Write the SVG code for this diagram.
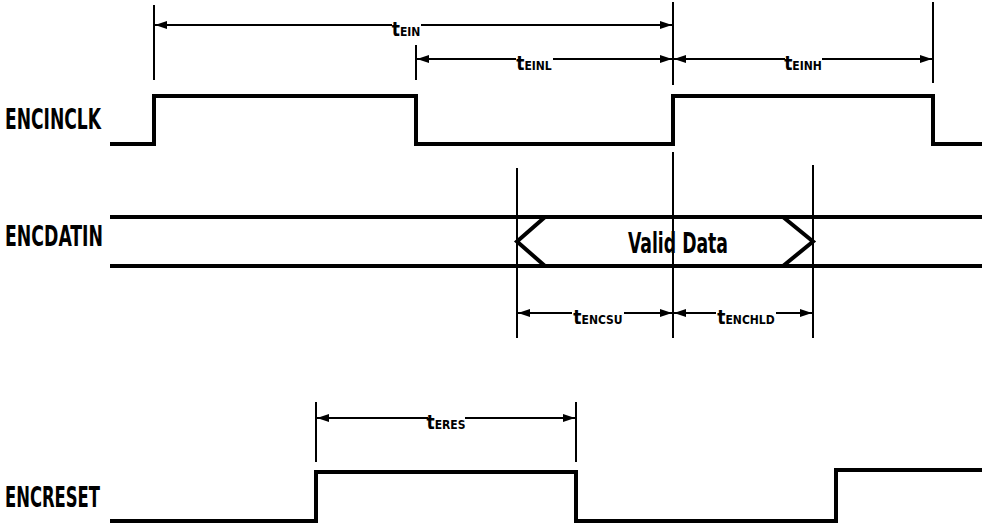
<svg xmlns="http://www.w3.org/2000/svg" width="982" height="527" viewBox="0 0 982 527">
<defs>
<marker id="ah" viewBox="0 0 12 8" refX="12" refY="4" markerWidth="12" markerHeight="8" markerUnits="userSpaceOnUse" orient="auto-start-reverse">
<path d="M0,0 L12,4 L0,8 Z" fill="#000"/>
</marker>
<style>
.wave{fill:none;stroke:#000;stroke-width:4;stroke-linejoin:miter}
.ext{stroke:#000;stroke-width:2}
.dim{stroke:#000;stroke-width:2}
.sig{font-family:"DejaVu Sans","Liberation Sans",sans-serif;font-weight:bold;font-stretch:condensed;font-size:28px;fill:#000}
.lbl{font-family:"DejaVu Sans","Liberation Sans",sans-serif;font-weight:bold;font-stretch:condensed;fill:#000}
.t{font-size:19px}
.s{font-size:12px}
</style>
</defs>
<rect width="982" height="527" fill="#fff"/>

<g id="encinclk">
<text class="sig" x="5" y="129" textLength="96" lengthAdjust="spacingAndGlyphs">ENCINCLK</text>
<path class="wave" d="M110,144 H154 V96 H416 V144 H673 V96 H933 V144 H982"/>
</g>

<g id="encdatin">
<text class="sig" x="5" y="246" textLength="98" lengthAdjust="spacingAndGlyphs">ENCDATIN</text>
<path class="wave" d="M110,217 H982 M110,266 H982"/>
<path class="wave" d="M545,217 L517,241.5 L545,266 M783,217 L813,241.5 L783,266"/>
<text class="sig" x="678" y="253" text-anchor="middle" font-size="27" textLength="100" lengthAdjust="spacingAndGlyphs">Valid Data</text>
</g>

<g id="encreset">
<text class="sig" x="5" y="507" textLength="95" lengthAdjust="spacingAndGlyphs">ENCRESET</text>
<path class="wave" d="M110,521 H316 V472 H576 V521 H836 V470 H982"/>
</g>

<g id="connectors">
<line class="ext" x1="154" y1="5" x2="154" y2="80"/>
<line class="ext" x1="673" y1="2" x2="673" y2="85"/>
<line class="ext" x1="416" y1="45" x2="416" y2="80"/>
<line class="ext" x1="933" y1="2" x2="933" y2="83"/>
<line class="ext" x1="517" y1="168" x2="517" y2="338"/>
<line class="ext" x1="673" y1="152" x2="673" y2="338"/>
<line class="ext" x1="813" y1="165" x2="813" y2="338"/>
<line class="ext" x1="316" y1="402" x2="316" y2="462"/>
<line class="ext" x1="576" y1="402" x2="576" y2="462"/>

<line class="dim" x1="392" y1="25" x2="155" y2="25" marker-end="url(#ah)"/>
<line class="dim" x1="421" y1="25" x2="672" y2="25" marker-end="url(#ah)"/>
<line class="dim" x1="516" y1="59" x2="417" y2="59" marker-end="url(#ah)"/>
<line class="dim" x1="553" y1="59" x2="672" y2="59" marker-end="url(#ah)"/>
<line class="dim" x1="785" y1="59" x2="674" y2="59" marker-end="url(#ah)"/>
<line class="dim" x1="822" y1="59" x2="932" y2="59" marker-end="url(#ah)"/>
<line class="dim" x1="572" y1="313" x2="518" y2="313" marker-end="url(#ah)"/>
<line class="dim" x1="624" y1="313" x2="672" y2="313" marker-end="url(#ah)"/>
<line class="dim" x1="716" y1="313" x2="674" y2="313" marker-end="url(#ah)"/>
<line class="dim" x1="776" y1="313" x2="812" y2="313" marker-end="url(#ah)"/>
<line class="dim" x1="428" y1="418" x2="317" y2="418" marker-end="url(#ah)"/>
<line class="dim" x1="465" y1="418" x2="575" y2="418" marker-end="url(#ah)"/>
</g>

<g id="labels">
<text class="lbl" x="406" y="36" text-anchor="middle"><tspan class="t">t</tspan><tspan class="s">EIN</tspan></text>
<text class="lbl" x="534" y="70" text-anchor="middle"><tspan class="t">t</tspan><tspan class="s">EINL</tspan></text>
<text class="lbl" x="803" y="70" text-anchor="middle"><tspan class="t">t</tspan><tspan class="s">EINH</tspan></text>
<text class="lbl" x="598" y="324" text-anchor="middle"><tspan class="t">t</tspan><tspan class="s">ENCSU</tspan></text>
<text class="lbl" x="746" y="324" text-anchor="middle"><tspan class="t">t</tspan><tspan class="s">ENCHLD</tspan></text>
<text class="lbl" x="446" y="429" text-anchor="middle"><tspan class="t">t</tspan><tspan class="s">ERES</tspan></text>
</g>
</svg>
